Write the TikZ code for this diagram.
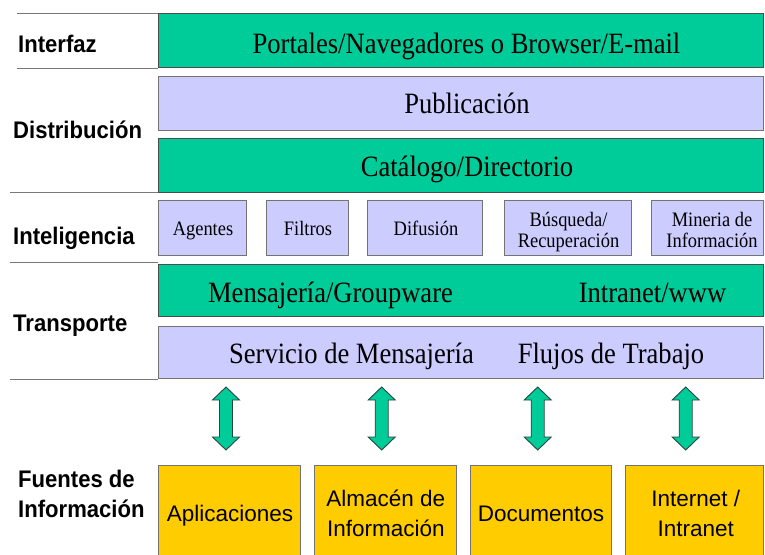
\documentclass[tikz,border=0pt]{standalone}
\usepackage{fontspec}
\setmainfont{Liberation Serif}[FakeStretch=0.9]
\newfontfamily\labfont{Liberation Sans}[FakeStretch=0.92]
\newfontfamily\srcfont{Liberation Sans}
\definecolor{tgreen}{RGB}{0,204,153}
\definecolor{lav}{RGB}{204,204,255}
\definecolor{gold}{RGB}{255,204,0}
\definecolor{sepgray}{RGB}{120,120,120}
\definecolor{arrline}{RGB}{40,70,60}
\begin{document}
\begin{tikzpicture}[x=1pt,y=-1pt,
  boxbase/.style={rectangle, inner sep=0pt, outer sep=0pt, anchor=north west, line width=0.9pt},
  gbox/.style={boxbase, fill=tgreen, draw=black!70},
  lbox/.style={boxbase, fill=lav, draw=black!55},
  ybox/.style={boxbase, fill=gold, draw=black!55},
  bigtxt/.style={font=\fontsize{29.5}{32}\selectfont, inner sep=0pt, anchor=base},
  smalltxt/.style={font=\fontsize{20.5}{21}\selectfont, inner sep=0pt, anchor=base, align=center},
  labtxt/.style={font=\labfont\bfseries\fontsize{24}{29.5}\selectfont, inner sep=0pt, anchor=base west, align=left},
  srctxt/.style={font=\srcfont\fontsize{22.5}{30}\selectfont, inner sep=0pt, anchor=base, align=center},
  sepline/.style={draw=sepgray, line width=1.4pt},
  blockarrow/.style={fill=tgreen, draw=arrline, line width=0.9pt, line join=miter}
]
\useasboundingbox (0,0) rectangle (765,554);

% separator lines
\coordinate (s1a) at (16.7,13.3);  \coordinate (s1b) at (158,13.3);
\coordinate (s2a) at (16.7,68.5);  \coordinate (s2b) at (158,68.5);
\coordinate (s3a) at (10,192.7);   \coordinate (s3b) at (158,192.7);
\coordinate (s4a) at (10,262.7);   \coordinate (s4b) at (158,262.7);
\coordinate (s5a) at (10,379.3);   \coordinate (s5b) at (158,379.3);
\foreach \s in {1,...,5} {\draw[sepline] (s\s a) -- (s\s b);}

% boxes
\node[gbox, minimum width=605, minimum height=54.4] (interfaz) at (158,13.3) {};
\node[lbox, minimum width=605, minimum height=53.3] (pub) at (158,76.7) {};
\node[gbox, minimum width=605, minimum height=54.7] (cat) at (158,138) {};

\node[lbox, minimum width=88.7, minimum height=55] (agentes) at (158,200.7) {};
\node[lbox, minimum width=82, minimum height=55] (filtros) at (266,200.7) {};
\node[lbox, minimum width=115, minimum height=55] (difusion) at (367.7,200.7) {};
\node[lbox, minimum width=127.7, minimum height=55] (busq) at (504,200.7) {};
\node[lbox, minimum width=111.3, minimum height=55] (mineria) at (651.7,200.7) {};

\node[gbox, minimum width=605, minimum height=52.7] (mens) at (158,264) {};
\node[lbox, minimum width=605, minimum height=52] (serv) at (158,326) {};

\node[ybox, minimum width=142.7, minimum height=95] (apl) at (158,465.7) {};
\node[ybox, minimum width=142, minimum height=95] (alm) at (314,465.7) {};
\node[ybox, minimum width=141.7, minimum height=95] (doc) at (470,465.7) {};
\node[ybox, minimum width=138, minimum height=95] (inet) at (625,465.7) {};

% box texts
\node[bigtxt] (t-interfaz) at (466.5,53.3) {Portales/Navegadores o Browser/E-mail};
\node[bigtxt] (t-pub) at (467,113.3) {Publicación};
\node[bigtxt] (t-cat) at (467,176) {Catálogo/Directorio};

\node[smalltxt] (t-agentes) at (203,235) {Agentes};
\node[smalltxt] (t-filtros) at (308,235) {Filtros};
\node[smalltxt] (t-difusion) at (426,235) {Difusión};
\node[smalltxt] (t-busq) at (568.5,247.7) {Búsqueda/\\Recuperación};
\node[smalltxt] (t-mineria) at (712,247.7) {Mineria de\\Información};

\node[bigtxt] (t-mens) at (330.5,302.7) {Mensajería/Groupware};
\node[bigtxt] (t-intra) at (652.5,302.7) {Intranet/www};
\node[bigtxt] (t-serv) at (351.5,363.3) {Servicio de Mensajería};
\node[bigtxt] (t-flujos) at (611,363.3) {Flujos de Trabajo};

\node[srctxt] (t-apl) at (230,521.7) {Aplicaciones};
\node[srctxt] (t-alm) at (385.8,536.7) {Almacén de\\Información};
\node[srctxt] (t-doc) at (541,521.7) {Documentos};
\node[srctxt] (t-inet) at (695.8,536.7) {Internet /\\Intranet};

% left labels
\node[labtxt] (l-interfaz) at (18,52.3) {Interfaz};
\node[labtxt] (l-dist) at (13,138) {Distribución};
\node[labtxt] (l-intel) at (13,244) {Inteligencia};
\node[labtxt] (l-trans) at (13,331.7) {Transporte};
\node[labtxt] (l-fuentes) at (18,517) {Fuentes de\\Información};

% double block arrows
\foreach \cx in {226,381.7,537.7,685.7} {
  \draw[blockarrow] (\cx,387) -- (\cx+13.5,400) -- (\cx+6.5,400) -- (\cx+6.5,437)
    -- (\cx+13.5,437) -- (\cx,450) -- (\cx-13.5,437) -- (\cx-6.5,437)
    -- (\cx-6.5,400) -- (\cx-13.5,400) -- cycle;
}
\end{tikzpicture}
\end{document}
